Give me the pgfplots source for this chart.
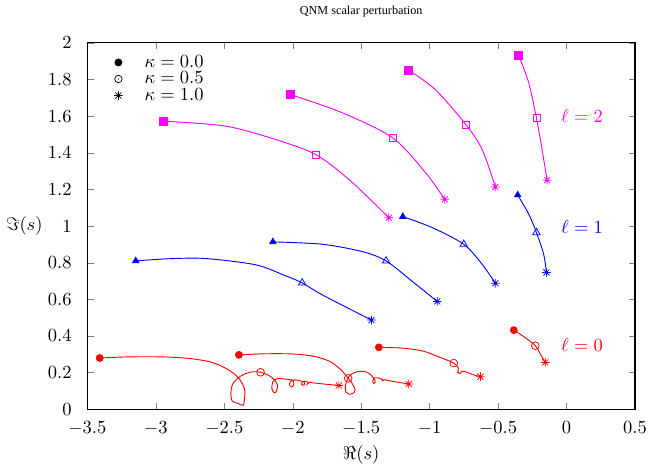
\documentclass[border=0pt]{standalone}
\usepackage{fontspec}
\newfontfamily\titlefont{Liberation Serif}
\usepackage{pgfplots}
\pgfplotsset{compat=1.18}
\definecolor{gpmag}{RGB}{255,0,255}

% gnuplot-like point types
\pgfdeclareplotmark{gpstar}{%
  \pgfpathmoveto{\pgfqpoint{-\pgfplotmarksize}{0pt}}\pgfpathlineto{\pgfqpoint{\pgfplotmarksize}{0pt}}%
  \pgfpathmoveto{\pgfqpoint{0pt}{-\pgfplotmarksize}}\pgfpathlineto{\pgfqpoint{0pt}{\pgfplotmarksize}}%
  \pgfpathmoveto{\pgfqpoint{-0.707\pgfplotmarksize}{-0.707\pgfplotmarksize}}\pgfpathlineto{\pgfqpoint{0.707\pgfplotmarksize}{0.707\pgfplotmarksize}}%
  \pgfpathmoveto{\pgfqpoint{-0.707\pgfplotmarksize}{0.707\pgfplotmarksize}}\pgfpathlineto{\pgfqpoint{0.707\pgfplotmarksize}{-0.707\pgfplotmarksize}}%
  \pgfusepathqstroke}
\pgfdeclareplotmark{odot}{%
  \pgfpathcircle{\pgfpointorigin}{\pgfplotmarksize}\pgfusepathqstroke
  \pgfpathcircle{\pgfpointorigin}{0.35pt}\pgfusepathqfill}

\pgfplotsset{
  mylegimg/.style={legend image code/.code={%
      \draw[##1] plot coordinates {(0.2cm,0cm)};
      \path (0cm,0cm) (0.62cm,0cm);}},
  qnm/.style={line width=0.5pt, smooth, tension=0.5, forget plot},
}

\begin{document}
\begin{tikzpicture}
\begin{axis}[
    scale only axis,
    width=296pt, height=198pt,
    xmin=-3.5, xmax=0.5, ymin=0, ymax=2,
    xtick={-3.5,-3,-2.5,-2,-1.5,-1,-0.5,0,0.5},
    ytick={0,0.2,0.4,0.6,0.8,1,1.2,1.4,1.6,1.8,2},
    major tick length=3.5pt,
    axis line style={line width=0.6pt},
    xticklabel style={yshift=-3pt},
    yticklabel style={xshift=-5pt},
    title={QNM scalar perturbation},
    title style={font=\titlefont\fontsize{6.6}{8}\selectfont, at={(axis description cs:0.5,1.055)}, anchor=center, yshift=0pt},
    xlabel={$\Re(s)$},
    ylabel={$\Im(s)$},
    xlabel style={at={(axis description cs:0.5,-0.125)}, anchor=center},
    ylabel style={at={(axis description cs:-0.115,0.5)}, anchor=center, rotate=-90},
    legend style={draw=none, fill=none, at={(axis description cs:0.026,0.988)}, anchor=north west, row sep=-3pt},
    legend cell align=left,
]
\addlegendimage{only marks, mark=*, black, mark size=1.9pt, mylegimg}
\addlegendentry{$\kappa = 0.0$}
\addlegendimage{only marks, mark=odot, black, mark size=2pt, mylegimg}
\addlegendentry{$\kappa = 0.5$}
\addlegendimage{only marks, mark=gpstar, black, mark size=2.3pt, mylegimg}
\addlegendentry{$\kappa = 1.0$}

% ---- l = 0 (red)
\addplot[red, qnm] coordinates {
  (-3.41,0.280) (-3.2,0.286) (-2.95,0.286) (-2.75,0.277) (-2.60,0.258)
  (-2.50,0.228) (-2.43,0.195) (-2.38,0.155) (-2.352,0.110) (-2.352,0.060)
  (-2.362,0.022) (-2.40,0.032) (-2.442,0.045) (-2.452,0.090) (-2.44,0.135)
  (-2.40,0.170) (-2.35,0.193) (-2.29,0.205) (-2.235,0.202) (-2.18,0.187)
  (-2.14,0.165) (-2.112,0.135) (-2.118,0.100) (-2.135,0.090) (-2.152,0.112)
  (-2.145,0.150) (-2.11,0.168) (-2.06,0.165) (-2.00,0.158) (-1.993,0.135)
  (-2.008,0.122) (-2.025,0.138) (-2.005,0.158) (-1.97,0.160) (-1.945,0.155)
  (-1.915,0.148) (-1.918,0.132) (-1.935,0.135) (-1.928,0.152) (-1.90,0.152)
  (-1.885,0.145) (-1.89,0.140) (-1.875,0.148) (-1.86,0.145) (-1.80,0.140)
  (-1.663,0.130)
};
\addplot[red, qnm] coordinates {
  (-2.393,0.297) (-2.2,0.303) (-2.0,0.302) (-1.85,0.290) (-1.75,0.268)
  (-1.70,0.248) (-1.64,0.210) (-1.60,0.175) (-1.565,0.140) (-1.545,0.110)
  (-1.555,0.090) (-1.585,0.082) (-1.612,0.095) (-1.615,0.130) (-1.60,0.165)
  (-1.575,0.190) (-1.53,0.205) (-1.48,0.207) (-1.44,0.195) (-1.415,0.175)
  (-1.40,0.160) (-1.398,0.145) (-1.41,0.142) (-1.415,0.158) (-1.40,0.172)
  (-1.37,0.170) (-1.345,0.162) (-1.345,0.155) (-1.33,0.162) (-1.31,0.158)
  (-1.25,0.150) (-1.152,0.138)
};
\addplot[red, qnm] coordinates {
  (-1.371,0.338) (-1.2,0.334) (-1.05,0.318) (-0.93,0.285) (-0.824,0.252)
  (-0.79,0.225) (-0.795,0.200) (-0.78,0.195) (-0.76,0.208) (-0.72,0.200)
  (-0.68,0.188) (-0.629,0.178)
};
\addplot[red, qnm] coordinates {
  (-0.385,0.432) (-0.31,0.395) (-0.228,0.347) (-0.19,0.300) (-0.155,0.256)
};
\addplot[red, only marks, mark=*, mark size=1.9pt, forget plot] coordinates {
  (-3.41,0.280) (-2.393,0.297) (-1.371,0.338) (-0.385,0.432)
};
\addplot[red, only marks, mark=o, mark size=2.1pt, forget plot] coordinates {
  (-2.235,0.202) (-1.595,0.169) (-0.824,0.252) (-0.228,0.347)
};
\addplot[red, only marks, mark=gpstar, mark size=2.3pt, forget plot] coordinates {
  (-1.663,0.130) (-1.152,0.138) (-0.629,0.178) (-0.155,0.256)
};

% ---- l = 1 (blue)
\addplot[blue, qnm] coordinates {
  (-3.147,0.810) (-2.9,0.822) (-2.636,0.823) (-2.272,0.789) (-2.053,0.729)
  (-1.931,0.690) (-1.785,0.625) (-1.425,0.487)
};
\addplot[blue, qnm] coordinates {
  (-2.145,0.914) (-1.785,0.901) (-1.493,0.861) (-1.318,0.810) (-1.13,0.700)
  (-0.945,0.589)
};
\addplot[blue, qnm] coordinates {
  (-1.196,1.052) (-0.982,0.992) (-0.751,0.901) (-0.617,0.792) (-0.520,0.688)
};
\addplot[blue, qnm] coordinates {
  (-0.357,1.170) (-0.276,1.065) (-0.220,0.965) (-0.167,0.846) (-0.147,0.747)
};
\addplot[blue, only marks, mark=triangle*, mark size=2pt, forget plot] coordinates {
  (-3.147,0.810) (-2.145,0.914) (-1.196,1.052) (-0.357,1.170)
};
\addplot[blue, only marks, mark=triangle, mark size=2.3pt, forget plot] coordinates {
  (-1.931,0.690) (-1.318,0.810) (-0.751,0.901) (-0.220,0.965)
};
\addplot[blue, only marks, mark=gpstar, mark size=2.3pt, forget plot] coordinates {
  (-1.425,0.487) (-0.945,0.589) (-0.520,0.688) (-0.147,0.747)
};

% ---- l = 2 (magenta)
\addplot[gpmag, qnm] coordinates {
  (-2.945,1.573) (-2.49,1.546) (-2.126,1.473) (-1.833,1.391) (-1.59,1.255)
  (-1.298,1.046)
};
\addplot[gpmag, qnm] coordinates {
  (-2.016,1.718) (-1.639,1.619) (-1.270,1.482) (-1.030,1.292) (-0.890,1.146)
};
\addplot[gpmag, qnm] coordinates {
  (-1.153,1.851) (-0.958,1.745) (-0.734,1.553) (-0.617,1.419) (-0.520,1.214)
};
\addplot[gpmag, qnm] coordinates {
  (-0.350,1.933) (-0.276,1.782) (-0.220,1.591) (-0.179,1.419) (-0.142,1.250)
};
\addplot[gpmag, only marks, mark=square*, mark size=2.1pt, forget plot] coordinates {
  (-2.945,1.573) (-2.016,1.718) (-1.153,1.851) (-0.350,1.933)
};
\addplot[gpmag, only marks, mark=square, mark size=1.9pt, forget plot] coordinates {
  (-1.833,1.391) (-1.270,1.482) (-0.734,1.553) (-0.220,1.591)
};
\addplot[gpmag, only marks, mark=gpstar, mark size=2.3pt, forget plot] coordinates {
  (-1.298,1.046) (-0.890,1.146) (-0.520,1.214) (-0.142,1.250)
};

\node[gpmag] at (axis cs:0.113,1.602) {$\ell = 2$};
\node[blue] at (axis cs:0.113,0.997) {$\ell = 1$};
\node[red] at (axis cs:0.113,0.349) {$\ell = 0$};
\end{axis}
\end{tikzpicture}
\end{document}
